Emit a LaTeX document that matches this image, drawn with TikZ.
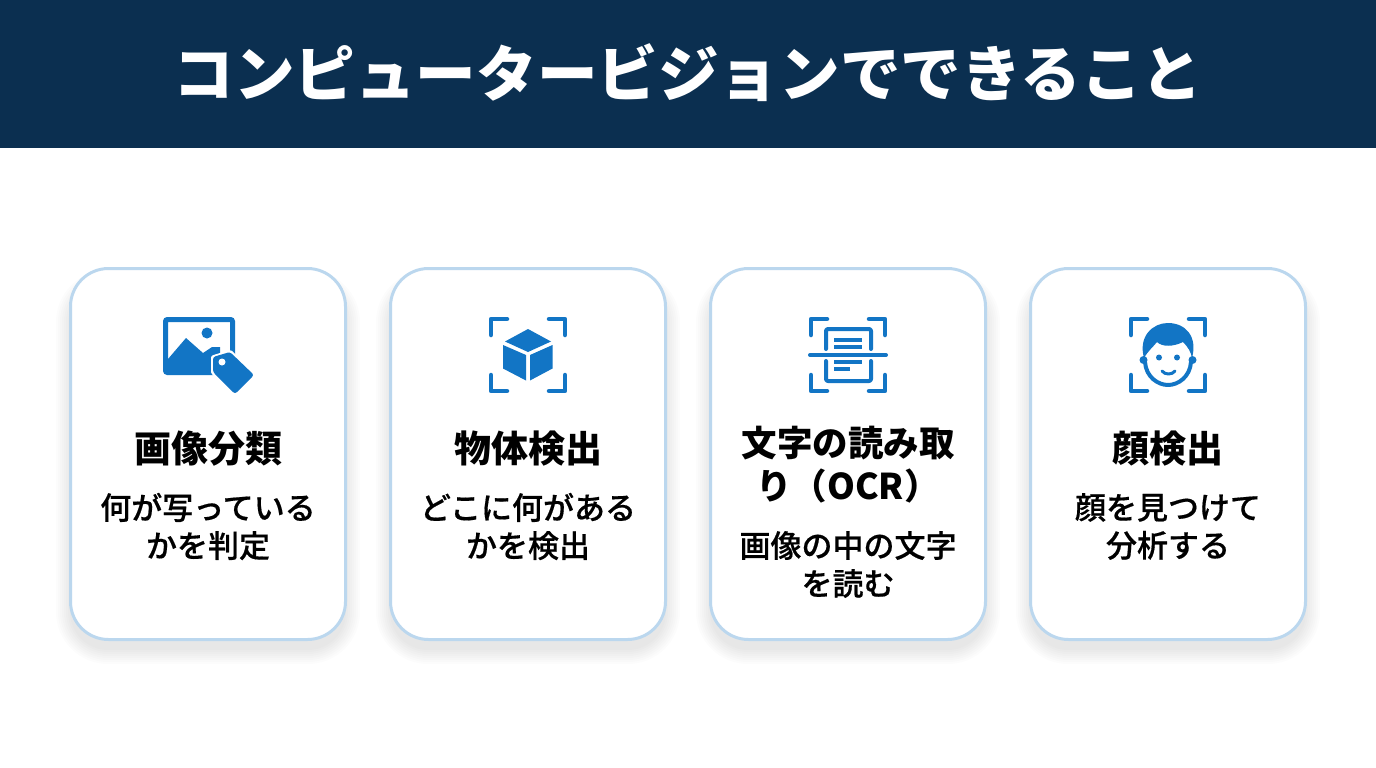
\documentclass[tikz,border=0pt]{standalone}
\usepackage{fontspec}
\setmainfont{Noto Sans CJK JP}
\newfontfamily\medfont[FakeBold=0.5]{Noto Sans CJK JP Medium}
\definecolor{headblue}{HTML}{0B2F50}
\definecolor{iconblue}{HTML}{1275C5}
\definecolor{edgeblue}{HTML}{BBD7EE}
\tikzset{
	card/.style={draw=edgeblue,line width=3pt,fill=white,rounded corners=38pt,minimum width=275pt,minimum height=371pt,inner sep=0pt},
	heading/.style={align=center,text=black,inner sep=0pt,font=\fontsize{37}{43}\selectfont\bfseries},
	subtext/.style={align=center,text=black,inner sep=0pt,font=\fontsize{31}{38}\selectfont\medfont},
	corner/.style={draw=iconblue,line width=4.5pt,line cap=round,line join=round},
	stroke/.style={draw=iconblue,line width=4pt,line cap=round,line join=round},
}
\newcommand{\frameicon}[1]{%
	\begin{scope}[shift={(#1,355)}]
		\draw [corner] (-37,-20)--(-37,-36)--(-21,-36);
		\draw [corner] (21,-36)--(37,-36)--(37,-20);
		\draw [corner] (-37,20)--(-37,36)--(-21,36);
		\draw [corner] (21,36)--(37,36)--(37,20);
	\end{scope}}
\begin{document}
\begin{tikzpicture}[x=1pt,y=-1pt]
	\useasboundingbox (0,0) rectangle (1376,768);
	\fill [headblue] (0,0) rectangle (1376,148);
	\node [text=white,inner sep=0pt,font=\fontsize{60.6}{66}\selectfont\bfseries] (title) at (688,73) {コンピュータービジョンでできること};
	% cards with soft shadow
	\foreach \cx/\cname in {208/one,528/two,848/three,1168/four} {
		\foreach \grow in {0,2,...,14} {
			\fill [black,opacity=.012,rounded corners=38pt+\grow pt]
				(\cx-138-\grow,284-\grow) rectangle (\cx+138+\grow,650+\grow);
		}
		\node [card] (card\cname) at (\cx,454) {};
	}
	% image with tag
	\draw [iconblue,line width=5pt,rounded corners=2pt] (165.5,319.5) rectangle (232.5,372.5);
	\fill [iconblue] (207,333) circle (5.5);
	\fill [iconblue] (168,359)--(186,338)--(203,353)--(212,347)--(220,347)--(220,372)--(168,372)--cycle;
	\filldraw [draw=white,line width=6pt,line join=round,fill=white] (214,358)--(230,353)--(252,375)--(235,392)--(214,372)--cycle;
	\fill [iconblue,rounded corners=2.5pt] (213,357)--(230,352)--(254,375)--(235,394)--(213,372)--cycle;
	\fill [white] (222,362) circle (3.5);
	% cube
	\frameicon{528}
	\fill [iconblue] (528,329)--(551,341.5)--(528,352)--(505,341.5)--cycle;
	\fill [iconblue] (503,345)--(526,355)--(526,380.5)--(503,368.5)--cycle;
	\fill [iconblue] (530,355)--(552.5,345)--(552.5,368.5)--(530,380.5)--cycle;
	% document scan
	\frameicon{848}
	\draw [stroke,rounded corners=2pt] (826,349)--(826,329)--(871,329)--(871,349);
	\draw [stroke,rounded corners=2pt] (826,361)--(826,381)--(871,381)--(871,361);
	\draw [stroke,line width=3.2pt,line cap=butt] (834,340)--(862,340);
	\draw [stroke,line width=3.2pt,line cap=butt] (834,347)--(862,347);
	\draw [stroke,line width=3.2pt,line cap=butt] (834,362)--(862,362);
	\draw [stroke,line width=3.2pt,line cap=butt] (834,369)--(850,369);
	\draw [stroke] (810,355)--(886,355);
	% face
	\frameicon{1168}
	\fill [iconblue] (1143.5,360) circle (4);
	\fill [iconblue] (1192.5,360) circle (4);
	\draw [stroke] (1145,362) .. controls (1146,377) and (1158,385) .. (1168,385) .. controls (1178,385) and (1190,377) .. (1191,362);
	\fill [iconblue] (1144,358) .. controls (1138,336) and (1153,323) .. (1168,323) .. controls (1185,323) and (1198,336) .. (1192,358) .. controls (1191,352) and (1188,347) .. (1183,342) .. controls (1173,347) and (1162,347) .. (1157,342) .. controls (1153,347) and (1148,351) .. (1144,358) -- cycle;
	\fill [iconblue] (1159,357.5) circle (3);
	\fill [iconblue] (1177,357.5) circle (3);
	\draw [stroke,line width=3pt] (1162,371) .. controls (1165,375) and (1172,375) .. (1175,371);
	% texts
	\node [heading] (headone) at (208,448.5) {画像分類};
	\node [subtext] (subone) at (208,526.5) {何が写っている\\かを判定};
	\node [heading] (headtwo) at (528,448.5) {物体検出};
	\node [subtext] (subtwo) at (528,526.5) {どこに何がある\\かを検出};
	\node [heading,font=\fontsize{35.5}{43}\selectfont\bfseries] (headthree) at (848,465) {文字の読み取\\り（OCR）};
	\node [subtext] (subthree) at (848,564.5) {画像の中の文字\\を読む};
	\node [heading] (headfour) at (1168,448.5) {顔検出};
	\node [subtext] (subfour) at (1168,526.5) {顔を見つけて\\分析する};
\end{tikzpicture}
\end{document}
